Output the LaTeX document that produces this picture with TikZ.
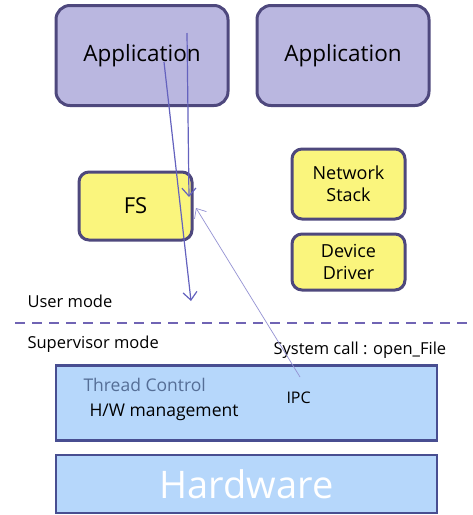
\documentclass[tikz,border=0pt]{standalone}
\usepackage{fontspec}
\setmainfont{Open Sans}
\usetikzlibrary{arrows.meta,positioning}
\definecolor{appfill}{RGB}{186,183,224}
\definecolor{boxline}{RGB}{78,72,125}
\definecolor{srvfill}{RGB}{250,245,125}
\definecolor{kernfill}{RGB}{182,215,251}
\definecolor{kernline}{RGB}{72,78,145}
\definecolor{callline}{RGB}{100,98,190}
\definecolor{modeline}{RGB}{112,100,180}
\definecolor{threadtxt}{RGB}{85,110,150}

\tikzset{
  appbox/.style={draw=boxline, fill=appfill, line width=3pt, rounded corners=14pt,
    minimum width=172pt, minimum height=100pt, font=\fontsize{22.5}{26}\selectfont},
  srvbox/.style={draw=boxline, fill=srvfill, line width=3pt, rounded corners=10pt,
    minimum width=113pt, align=center, font=\fontsize{18}{22}\selectfont},
  layer/.style={draw=kernline, fill=kernfill, line width=2.5pt,
    minimum width=381pt},
  call/.style={callline, line width=1.2pt, -{Straight Barb[length=8pt,width=14pt]}},
  modetxt/.style={anchor=west, font=\fontsize{16.5}{19}\selectfont}
}

\begin{document}
\begin{tikzpicture}[x=1pt,y=-1pt]
  \useasboundingbox (0,0) rectangle (473,515);
  % user space
  \node[appbox] (app1) at (142,55.5) {Application};
  \node[appbox] (app2) at (343,55.5) {Application};
  \node[srvbox, minimum height=68pt, font=\fontsize{22}{24}\selectfont] (fs) at (135.5,206) {FS};
  \node[srvbox, minimum height=70pt] (net) at (348.5,184) {Network\\Stack};
  \node[srvbox, minimum height=56pt] (drv) at (348.5,262) {Device\\Driver};

  % mode border
  \coordinate (lineL) at (15,323);
  \coordinate (lineR) at (470,323);
  \draw[modeline, line width=2pt, dash pattern=on 10pt off 7pt] (lineL) -- (lineR);
  \node[modetxt] (user) at (24,301) {User mode};
  \node[modetxt] (super) at (24,344) {Supervisor mode};
  \node[modetxt] (sys) at (270,350) {System call : open\_File};

  % kernel and hardware
  \node[layer, minimum height=75pt] (kern) at (246.5,403) {};
  \node[anchor=west, threadtxt, font=\fontsize{17.5}{20}\selectfont] (thread) at (80,385) {Thread Control};
  \node[anchor=west, font=\fontsize{17.5}{20}\selectfont] (hwm) at (86,412) {H/W management};
  \node[anchor=west, font=\fontsize{16}{20}\selectfont] (ipc) at (283,398) {IPC};
  \node[layer, minimum height=58pt, text=white, font=\fontsize{38}{42}\selectfont] (hw) at (246.5,484) {Hardware};

  % calls
  \coordinate (open) at (187,33);
  \coordinate (openEnd) at (189,197);
  \coordinate (ret) at (164,62);
  \coordinate (retEnd) at (191,301);
  \coordinate (ipcStart) at (300,377);
  \coordinate (ipcEnd) at (196,208);
  \draw[call] (open) -- (openEnd);
  \draw[call] (ret) -- (retEnd);
  \draw[call, line width=0.7pt, callline!70] (ipcStart) -- (ipcEnd);
\end{tikzpicture}
\end{document}
